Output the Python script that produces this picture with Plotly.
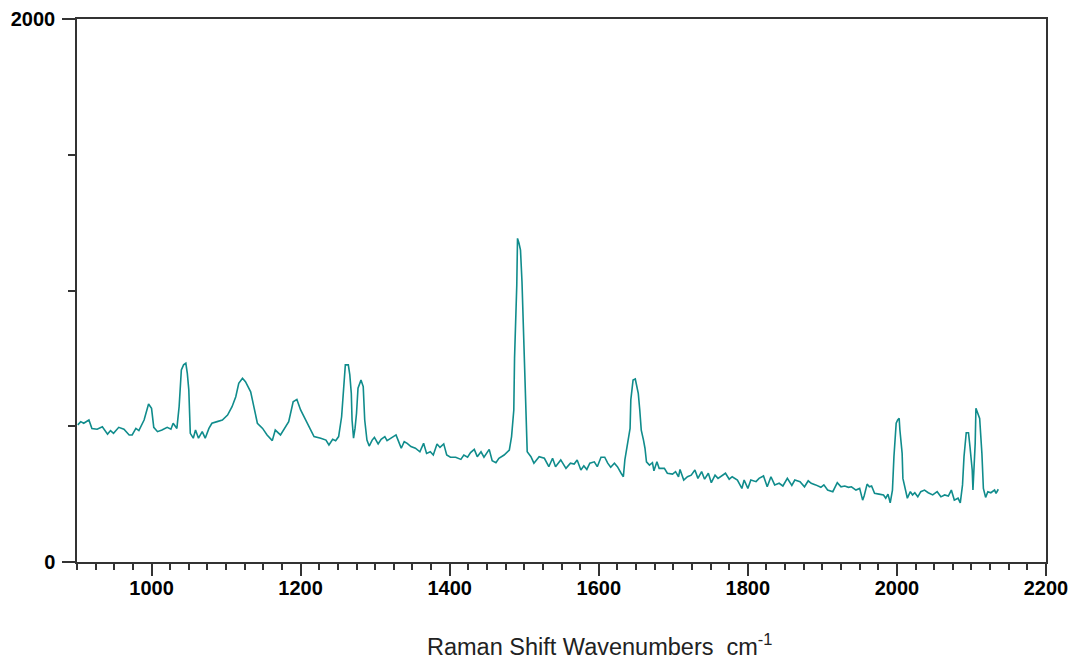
import plotly.graph_objects as go

# Raman spectrum
wavenumber = [
    901, 905, 909, 916, 920, 927, 934, 941, 945, 949, 956, 963, 970, 974, 979, 983,
    990, 996, 1000, 1003, 1008, 1014, 1021, 1026, 1029, 1034, 1037, 1040, 1043, 1046,
    1048, 1050, 1052, 1056, 1059, 1063, 1068, 1072, 1077, 1081, 1088, 1095, 1102, 1108,
    1113, 1117, 1122, 1126, 1133, 1137, 1142, 1149, 1155, 1162, 1166, 1173, 1178, 1184,
    1190, 1195, 1200, 1207, 1212, 1218, 1227, 1234, 1238, 1243, 1247, 1251, 1255, 1257,
    1260, 1264, 1266, 1268, 1269, 1271, 1273, 1275, 1277, 1281, 1284, 1286, 1289, 1292,
    1296, 1299, 1304, 1308, 1313, 1316, 1322, 1328, 1331, 1335, 1339, 1343, 1348, 1354,
    1360, 1365, 1369, 1374, 1378, 1383, 1387, 1392, 1396, 1401, 1408, 1415, 1419, 1424,
    1428, 1433, 1437, 1442, 1446, 1453, 1457, 1462, 1466, 1473, 1480, 1483, 1486, 1487,
    1490, 1491, 1493, 1495, 1497, 1499, 1501, 1503, 1504, 1509, 1513, 1520, 1527, 1533,
    1538, 1542, 1549, 1556, 1562, 1567, 1571, 1576, 1580, 1584, 1588, 1594, 1598, 1603,
    1608, 1612, 1616, 1621, 1625, 1630, 1633, 1635, 1639, 1642, 1643, 1646, 1649, 1651,
    1653, 1655, 1657, 1660, 1662, 1664, 1668, 1672, 1674, 1678, 1681, 1688, 1692, 1699,
    1703, 1707, 1709, 1714, 1719, 1724, 1729, 1733, 1738, 1742, 1747, 1751, 1756, 1760,
    1766, 1770, 1775, 1779, 1786, 1792, 1795, 1800, 1804, 1811, 1815, 1821, 1826, 1831,
    1836, 1842, 1847, 1853, 1859, 1863, 1870, 1876, 1881, 1885, 1891, 1898, 1902, 1907,
    1914, 1920, 1925, 1930, 1935, 1939, 1945, 1950, 1954, 1956, 1960, 1963, 1966, 1970,
    1976, 1982, 1985, 1988, 1991, 1994, 1996, 1999, 2001, 2003, 2004, 2007, 2008, 2011,
    2014, 2018, 2021, 2024, 2028, 2032, 2037, 2042, 2048, 2054, 2059, 2064, 2069, 2073,
    2077, 2082, 2085, 2088, 2090, 2093, 2096, 2098, 2101, 2102, 2105, 2106, 2108, 2111,
    2114, 2116, 2119, 2122, 2126, 2131, 2133, 2136,
]
intensity = [
    505, 517, 511, 523, 492, 489, 498, 471, 484, 474, 496, 489, 468, 468, 492, 484,
    523, 582, 566, 496, 480, 486, 496, 489, 511, 492, 572, 707, 726, 732,
    695, 634, 474, 456, 486, 456, 480, 456, 492, 511, 517, 523, 541, 572,
    609, 658, 677, 664, 627, 572, 511, 492, 468, 447, 486, 468, 492, 517,
    590, 599, 560, 520, 492, 462, 456, 449, 431, 452, 447, 462, 535, 627,
    726, 726, 689, 621, 523, 456, 492, 548, 640, 670, 646, 523, 449, 427,
    449, 459, 435, 452, 462, 447, 456, 468, 447, 419, 443, 437, 425, 419,
    406, 437, 400, 406, 394, 435, 422, 435, 394, 386, 386, 378, 394, 386,
    403, 415, 388, 406, 386, 415, 373, 366, 382, 394, 412, 462, 560, 750,
    1020, 1192, 1174, 1149, 1032, 830, 634, 474, 406, 388, 364, 388, 382, 351,
    382, 351, 376, 345, 364, 361, 376, 339, 354, 341, 364, 369, 351, 386,
    386, 364, 349, 364, 351, 327, 314, 376, 437, 492, 597, 670, 674, 652,
    621, 560, 486, 449, 419, 369, 357, 366, 336, 369, 345, 345, 327, 324,
    333, 314, 341, 302, 314, 320, 339, 308, 333, 305, 327, 292, 320, 308,
    320, 327, 305, 314, 302, 271, 302, 271, 302, 296, 308, 317, 277, 314,
    284, 290, 280, 308, 282, 302, 296, 277, 299, 290, 284, 275, 284, 265,
    259, 292, 277, 280, 275, 277, 265, 271, 228, 243, 287, 277, 280, 253,
    250, 247, 235, 250, 218, 265, 388, 511, 523, 529, 486, 400, 308, 265,
    235, 259, 247, 255, 240, 259, 265, 255, 247, 259, 240, 247, 243, 265,
    228, 235, 218, 284, 388, 476, 476, 425, 339, 265, 437, 566, 548, 529,
    400, 271, 238, 259, 255, 265, 253, 268,
]

x_major = [1000, 1200, 1400, 1600, 1800, 2000, 2200]
y_ticks = [0, 2000]

axis_color = "#333333"
tick_font = dict(family="Liberation Sans, Arial, sans-serif", size=20, color="black", weight="bold")

fig = go.Figure()
fig.add_trace(go.Scatter(
    x=wavenumber,
    y=intensity,
    mode="lines",
    line=dict(color="#108c8c", width=1.6),
    hoverinfo="skip",
))

fig.update_layout(
    width=1074,
    height=660,
    paper_bgcolor="white",
    plot_bgcolor="white",
    showlegend=False,
    margin=dict(l=77, r=28, t=19, b=98),
    xaxis=dict(
        range=[900, 2200],
        tickvals=x_major,
        ticks="outside",
        ticklen=12,
        tickwidth=1.5,
        tickcolor=axis_color,
        tickfont=tick_font,
        ticklabelstandoff=-5,
        showline=True,
        linecolor=axis_color,
        linewidth=1.5,
        mirror=True,
        showgrid=False,
        zeroline=False,
        automargin=False,
        minor=dict(dtick=25, tick0=900, ticks="outside", ticklen=6, tickwidth=1.5,
                   tickcolor=axis_color, showgrid=False),
    ),
    yaxis=dict(
        range=[0, 2000],
        tickvals=y_ticks,
        ticks="outside",
        ticklen=13,
        tickwidth=1.5,
        tickcolor=axis_color,
        tickfont=tick_font,
        ticklabelstandoff=3,
        showline=True,
        linecolor=axis_color,
        linewidth=1.5,
        mirror=True,
        showgrid=False,
        zeroline=False,
        automargin=False,
        minor=dict(dtick=500, tick0=0, ticks="outside", ticklen=7, tickwidth=1.5,
                   tickcolor=axis_color, showgrid=False),
    ),
    annotations=[
        dict(
            text="Raman Shift Wavenumbers  cm<sup>-1</sup>",
            x=0.5397, y=-0.153,
            xref="paper", yref="paper",
            xanchor="center", yanchor="middle",
            showarrow=False,
            font=dict(family="Liberation Sans, Arial, sans-serif", size=23.5, color="#222222"),
        )
    ],
)

# drop the default page margin so the figure sits at the window's corner
fig.write_html("out.html", config={"displayModeBar": False},
               post_script="document.body.style.margin='0';")
